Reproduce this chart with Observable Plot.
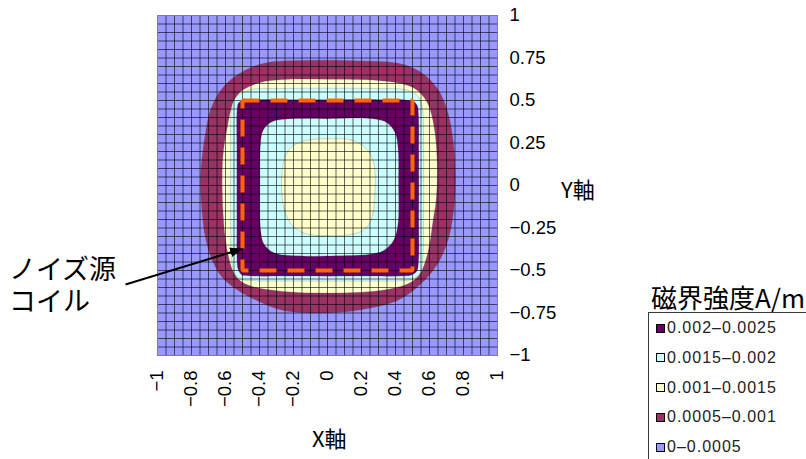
<!DOCTYPE html>
<html lang="ja">
<head>
<meta charset="utf-8">
<script src="https://cdn.jsdelivr.net/npm/d3@7"></script>
<script src="https://cdn.jsdelivr.net/npm/@observablehq/plot@0.6"></script>
<style>
  @font-face {
    font-family: "JP Tight";
    src: local("Noto Sans CJK JP Regular"), local("NotoSansCJKjp-Regular"), local("Noto Sans CJK JP");
    ascent-override: 88%;
    descent-override: 12%;
    line-gap-override: 0%;
  }
  html, body { margin: 0; padding: 0; background: #fff; overflow: hidden; }
  #wrap { position: relative; width: 806px; height: 459px; overflow: hidden; }
  #wrap svg { position: absolute; left: 0; top: 0; overflow: visible; }
  .jp { font-family: "Noto Sans CJK JP", "Noto Sans", sans-serif; color: #000; position: absolute; white-space: nowrap; }
  .tight { font-family: "JP Tight", "Noto Sans CJK JP", sans-serif; }
  #legend-box { position: absolute; left: 648px; top: 312px; width: 200px; height: 170px; border: 1px solid #3a3a3a; box-sizing: border-box; }
  .row { position: absolute; left: 7px; height: 20px; display: flex; align-items: center;
         font-family: "Liberation Sans", Arial, sans-serif; font-size: 16px; letter-spacing: 1px; color: #222; }
  .sw { width: 9px; height: 9px; border: 1px solid #000; box-sizing: border-box; margin-right: 2px; }
</style>
</head>
<body>
<div id="wrap"></div>
<script>
// Field-strength bands (legend order, strongest first)
const bandLabels = ["0.002–0.0025", "0.0015–0.002", "0.001–0.0015", "0.0005–0.001", "0–0.0005"];
const bandColors = ["#660066", "#CCFFFF", "#FFFFCC", "#993366", "#9999FF"];

// Axis ticks and their labels
const xTicks = [-1, -0.8, -0.6, -0.4, -0.2, 0, 0.2, 0.4, 0.6, 0.8, 1];
const xTickLabels = ["−1", "−0.8", "−0.6", "−0.4", "−0.2", "0", "0.2", "0.4", "0.6", "0.8", "1"];
const yTicks = [-1, -0.75, -0.5, -0.25, 0, 0.25, 0.5, 0.75, 1];
const yTickLabels = ["−1", "−0.75", "−0.5", "−0.25", "0", "0.25", "0.5", "0.75", "1"];

// Contour outlines [x, y] (clockwise from the top)
// 0.0005 level: outer edge of the maroon band
const maroonOuter = [[0, 0.737], [0.2, 0.733], [0.41, 0.72], [0.547, 0.668], [0.645, 0.572], [0.705, 0.44], [0.738, 0.27], [0.752, 0.03], [0.74, -0.165], [0.708, -0.324], [0.648, -0.46], [0.55, -0.578], [0.412, -0.676], [0.212, -0.728], [0, -0.75], [-0.26, -0.735], [-0.412, -0.678], [-0.53, -0.615], [-0.62, -0.54], [-0.678, -0.44], [-0.718, -0.306], [-0.737, -0.165], [-0.747, 0.03], [-0.737, 0.17], [-0.718, 0.306], [-0.69, 0.44], [-0.63, 0.558], [-0.553, 0.635], [-0.453, 0.693], [-0.35, 0.724], [-0.16, 0.735]];
// 0.001 level: outer edge of the yellow band
const yellowOuter = [[0, 0.625], [0.3, 0.618], [0.47, 0.59], [0.535, 0.555], [0.58, 0.5], [0.606, 0.44], [0.633, 0.306], [0.646, 0.1], [0.638, -0.1], [0.622, -0.2], [0.6, -0.35], [0.575, -0.45], [0.54, -0.525], [0.48, -0.575], [0.31, -0.618], [0, -0.633], [-0.29, -0.62], [-0.44, -0.595], [-0.51, -0.563], [-0.553, -0.51], [-0.58, -0.43], [-0.606, -0.27], [-0.62, 0.03], [-0.612, 0.206], [-0.59, 0.34], [-0.57, 0.44], [-0.545, 0.51], [-0.5, 0.56], [-0.4, 0.605], [-0.26, 0.623]];
// 0.0015 level: outer edge of the cyan band
const cyanOuter = [[0, 0.572], [0.3, 0.57], [0.45, 0.565], [0.515, 0.54], [0.545, 0.5], [0.56, 0.44], [0.565, 0.2], [0.565, -0.2], [0.56, -0.44], [0.545, -0.515], [0.5, -0.552], [0.44, -0.56], [0.2, -0.562], [-0.2, -0.562], [-0.44, -0.56], [-0.505, -0.553], [-0.545, -0.52], [-0.563, -0.45], [-0.57, -0.2], [-0.57, 0.2], [-0.566, 0.44], [-0.548, 0.505], [-0.51, 0.54], [-0.45, 0.565], [-0.3, 0.57]];
// 0.002 level: outer edge of the purple ring
const purpleOuter = [[0, 0.505], [0.3, 0.505], [0.46, 0.503], [0.505, 0.495], [0.528, 0.47], [0.535, 0.42], [0.537, 0.2], [0.537, -0.2], [0.535, -0.45], [0.525, -0.505], [0.49, -0.528], [0.44, -0.532], [0.2, -0.533], [-0.2, -0.533], [-0.45, -0.532], [-0.505, -0.525], [-0.527, -0.49], [-0.532, -0.44], [-0.533, -0.2], [-0.533, 0.2], [-0.532, 0.44], [-0.524, 0.485], [-0.5, 0.502], [-0.45, 0.505], [-0.3, 0.505]];
// 0.002 level: inner edge of the purple ring
const purpleInner = [[0, 0.393], [0.27, 0.392], [0.352, 0.368], [0.398, 0.31], [0.415, 0.224], [0.418, 0.03], [0.413, -0.24], [0.385, -0.33], [0.33, -0.383], [0.25, -0.405], [0.02, -0.414], [-0.22, -0.412], [-0.318, -0.394], [-0.375, -0.342], [-0.393, -0.265], [-0.398, 0.03], [-0.394, 0.247], [-0.38, 0.322], [-0.335, 0.37], [-0.26, 0.389]];
// 0.0015 level: the weaker area at the centre
const yellowCenter = [[0, 0.275], [0.14, 0.268], [0.215, 0.228], [0.262, 0.165], [0.28, 0.06], [0.277, -0.08], [0.258, -0.2], [0.212, -0.262], [0.12, -0.29], [0, -0.295], [-0.12, -0.285], [-0.2, -0.242], [-0.25, -0.155], [-0.27, -0.03], [-0.265, 0.1], [-0.245, 0.18], [-0.2, 0.235], [-0.12, 0.266]];

// Painting order, each region tagged with its band
const regions = [
  {band: 3, outline: maroonOuter},
  {band: 2, outline: yellowOuter},
  {band: 1, outline: cyanOuter},
  {band: 0, outline: purpleOuter},
  {band: 1, outline: purpleInner},
  {band: 2, outline: yellowCenter}
];

// Noise-source coil (square loop) and the pointer to it
const coil = [[-0.5, 0.5], [0.5, 0.5], [0.5, -0.5], [-0.5, -0.5]];
const pointer = [{x1: -1.188, y1: -0.582, x2: -0.532, y2: -0.382}];

// Surface mesh spacing
const meshStep = 0.05;
const mesh = d3.range(41).map(i => -1 + i * meshStep);

const lookup = (ticks, labels) => d => labels[ticks.findIndex(t => Math.abs(t - d) < 1e-9)];

const chart = Plot.plot({
  width: 806,
  height: 459,
  marginLeft: 157,
  marginRight: 309,
  marginTop: 15,
  marginBottom: 104,
  style: {fontFamily: "'Liberation Sans', Arial, sans-serif", fontSize: "18.5px", color: "#000", background: "transparent", overflow: "visible"},
  x: {domain: [-1, 1], ticks: xTicks, tickFormat: lookup(xTicks, xTickLabels), tickRotate: -90, tickSize: 0, tickPadding: 15, label: null},
  y: {domain: [-1, 1], axis: "right", ticks: yTicks, tickFormat: lookup(yTicks, yTickLabels), tickSize: 0, tickPadding: 12, label: null},
  marks: [
    Plot.frame({fill: bandColors[4]}),
    ...regions.map(r => Plot.line(r.outline, {
      x: d => d[0], y: d => d[1],
      curve: "catmull-rom-closed",
      fill: bandColors[r.band],
      stroke: "#555", strokeOpacity: 0.3, strokeWidth: 0.8
    })),
    Plot.ruleX(mesh, {stroke: "#000", strokeOpacity: 0.6, strokeWidth: 1}),
    Plot.ruleY(mesh, {stroke: "#000", strokeOpacity: 0.6, strokeWidth: 1}),
    Plot.frame({stroke: "#808080"}),
    Plot.line(coil, {
      x: d => d[0], y: d => d[1],
      curve: "linear-closed",
      stroke: "#FF6600", strokeWidth: 4,
      strokeDasharray: "17,11", strokeLinecap: "butt", strokeLinejoin: "miter"
    }),
    Plot.link(pointer, {x1: "x1", y1: "y1", x2: "x2", y2: "y2", stroke: "#000", strokeWidth: 2, markerEnd: "arrow"})
  ]
});

// Solid triangular arrowhead
chart.querySelectorAll("marker").forEach(m => {
  m.setAttribute("fill", "#000");
  m.setAttribute("stroke", "none");
  const p = m.querySelector("path");
  if (p) p.setAttribute("d", "M-5,-3.6L5,0L-5,3.6Z");
});

const wrap = document.getElementById("wrap");
wrap.appendChild(chart);

// Axis titles and annotation
function addText(text, css, extraClass) {
  const el = document.createElement("div");
  el.className = "jp" + (extraClass ? " " + extraClass : "");
  el.textContent = text;
  Object.assign(el.style, css);
  wrap.appendChild(el);
  return el;
}
addText("Y軸", {left: "561px", top: "175px", fontSize: "22px", lineHeight: "26px"});
addText("X軸", {left: "312px", top: "424px", fontSize: "22px", lineHeight: "26px"});
addText("ノイズ源", {left: "9px", top: "255px", fontSize: "27px", lineHeight: "28px", height: "28px"}, "tight");
addText("コイル", {left: "9px", top: "287px", fontSize: "27px", lineHeight: "28px", height: "28px"}, "tight");

// Legend
addText("磁界強度A/m", {left: "651px", top: "281px", fontSize: "26px", lineHeight: "32px"});
const box = document.createElement("div");
box.id = "legend-box";
wrap.appendChild(box);
bandLabels.forEach((label, i) => {
  const row = document.createElement("div");
  row.className = "row";
  row.style.top = (5 + i * 29.8) + "px";
  const sw = document.createElement("span");
  sw.className = "sw";
  sw.style.background = bandColors[i];
  const tx = document.createElement("span");
  tx.textContent = label;
  row.appendChild(sw);
  row.appendChild(tx);
  box.appendChild(row);
});
</script>
</body>
</html>
